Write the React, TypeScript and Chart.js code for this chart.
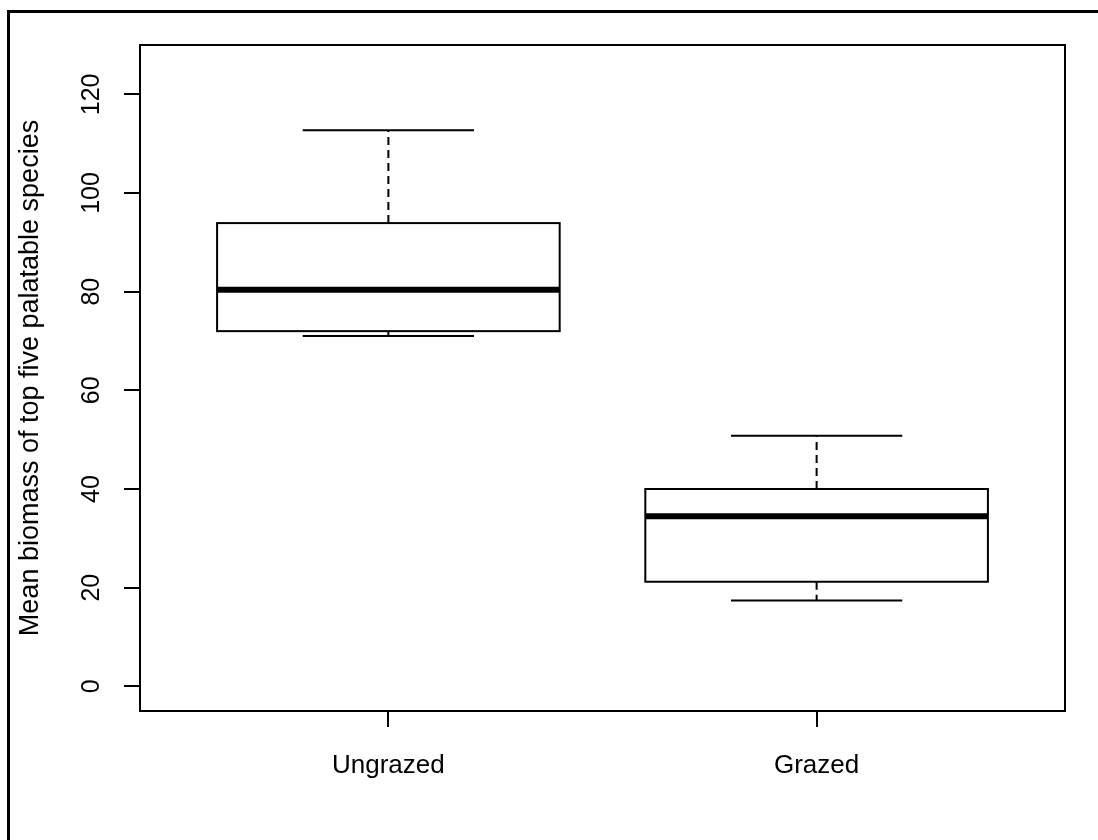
import React, { useEffect, useRef } from "react";
import { Chart, registerables } from "chart.js";

Chart.register(...registerables);

const categories = ["Ungrazed", "Grazed"];
const positions = [1, 2];
const lowerWhisker = [71.0, 17.4];
const lowerQuartile = [72.0, 21.2];
const medians = [80.4, 34.5];
const upperQuartile = [93.9, 40.0];
const upperWhisker = [112.7, 50.8];
const yTicks = [0, 20, 40, 60, 80, 100, 120];
const yTitle = "Mean biomass of top five palatable species";

const FONT = "'Liberation Sans', Arial, Helvetica, sans-serif";

const boxPlugin = {
  id: "rbox",
  afterDatasetsDraw(chart: any) {
    const { ctx, chartArea, scales } = chart;
    const xs = scales.x;
    const ys = scales.y;
    ctx.save();
    ctx.strokeStyle = "#000";
    ctx.lineCap = "butt";
    for (let i = 0; i < positions.length; i++) {
      const p = positions[i];
      const cx = xs.getPixelForValue(p);
      const bl = xs.getPixelForValue(p - 0.4);
      const br = xs.getPixelForValue(p + 0.4);
      const cl = xs.getPixelForValue(p - 0.2);
      const cr = xs.getPixelForValue(p + 0.2);
      const yLo = ys.getPixelForValue(lowerWhisker[i]);
      const yQ1 = ys.getPixelForValue(lowerQuartile[i]);
      const yMed = ys.getPixelForValue(medians[i]);
      const yQ3 = ys.getPixelForValue(upperQuartile[i]);
      const yHi = ys.getPixelForValue(upperWhisker[i]);
      // whiskers (dashed)
      ctx.lineWidth = 2;
      ctx.setLineDash([8, 5]);
      ctx.beginPath();
      ctx.moveTo(cx, yQ3);
      ctx.lineTo(cx, yHi);
      ctx.moveTo(cx, yQ1);
      ctx.lineTo(cx, yLo);
      ctx.stroke();
      ctx.setLineDash([]);
      // caps
      ctx.beginPath();
      ctx.moveTo(cl, yHi);
      ctx.lineTo(cr, yHi);
      ctx.moveTo(cl, yLo);
      ctx.lineTo(cr, yLo);
      ctx.stroke();
      // box
      ctx.strokeRect(bl, yQ3, br - bl, yQ1 - yQ3);
      // median
      ctx.lineWidth = 6;
      ctx.beginPath();
      ctx.moveTo(bl, yMed);
      ctx.lineTo(br, yMed);
      ctx.stroke();
    }
    // plot frame
    ctx.lineWidth = 2;
    ctx.strokeRect(
      chartArea.left,
      chartArea.top,
      chartArea.right - chartArea.left,
      chartArea.bottom - chartArea.top
    );
    ctx.restore();
  },
};

export default function App() {
  const ref = useRef<HTMLCanvasElement | null>(null);
  useEffect(() => {
    if (!ref.current) return;
    const chart = new Chart(ref.current, {
      type: "scatter",
      data: {
        datasets: [
          {
            label: "median",
            data: positions.map((p, i) => ({ x: p, y: medians[i] })),
            pointRadius: 0,
            showLine: false,
          },
        ],
      },
      options: {
        animation: false,
        responsive: false,
        events: [],
        layout: { padding: { top: 45, right: 33, left: 0, bottom: 0 } },
        plugins: { legend: { display: false }, tooltip: { enabled: false } },
        scales: {
          x: {
            type: "linear",
            min: 0.42,
            max: 2.58,
            afterBuildTicks: (s: any) => {
              s.ticks = positions.map((v) => ({ value: v }));
            },
            afterFit: (s: any) => {
              s.height = 129;
            },
            border: { display: false },
            grid: {
              drawOnChartArea: false,
              drawTicks: true,
              tickLength: 16,
              color: "#000",
              lineWidth: 2,
            },
            ticks: {
              autoSkip: false,
              maxRotation: 0,
              padding: 23,
              color: "#000",
              font: { family: FONT, size: 26 },
              callback: (v: any) => categories[positions.indexOf(Number(v))] ?? "",
            },
          },
          y: {
            type: "linear",
            min: -5,
            max: 130,
            afterBuildTicks: (s: any) => {
              s.ticks = yTicks.map((v) => ({ value: v }));
            },
            afterFit: (s: any) => {
              s.width = 140;
            },
            border: { display: false },
            grid: {
              drawOnChartArea: false,
              drawTicks: true,
              tickLength: 16,
              color: "#000",
              lineWidth: 2,
            },
            ticks: {
              autoSkip: false,
              minRotation: 90,
              maxRotation: 90,
              crossAlign: "center",
              padding: 11,
              color: "#000",
              font: { family: FONT, size: 25 },
              callback: (v: any) => String(v),
            },
            title: {
              display: true,
              text: yTitle,
              color: "#000",
              font: { family: FONT, size: 27 },
              padding: { top: 14, bottom: 0 },
            },
          },
        },
      },
      plugins: [boxPlugin],
    });
    return () => chart.destroy();
  }, []);

  return (
    <div style={{ position: "absolute", left: 0, top: 0, width: 1098, height: 840, background: "#fff", overflow: "hidden" }}>
      <div
        style={{
          position: "absolute",
          left: 7,
          top: 10,
          width: 1200,
          height: 900,
          borderLeft: "3px solid #000",
          borderTop: "3px solid #000",
        }}
      />
      <canvas
        ref={ref}
        width={1098}
        height={840}
        style={{ position: "absolute", left: 0, top: 0, width: 1098, height: 840 }}
      />
    </div>
  );
}
